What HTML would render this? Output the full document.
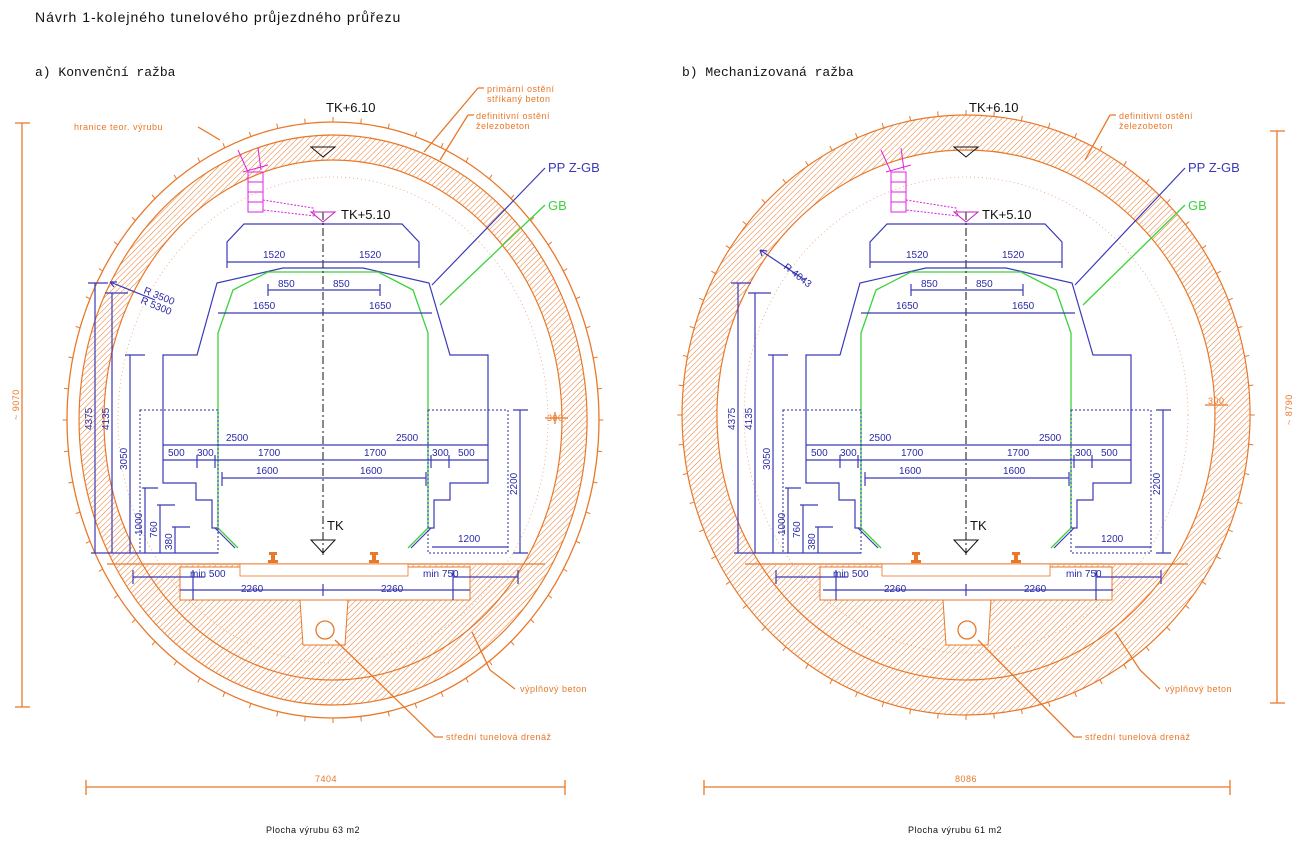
<!DOCTYPE html>
<html><head><meta charset="utf-8"><style>
html,body{margin:0;padding:0;background:#fff}
svg{display:block}
text{font-family:"Liberation Sans",sans-serif}
.o{fill:none;stroke:#e8782a;stroke-width:1.3}
.b{fill:none;stroke:#3a3ab8;stroke-width:1.2}
.g{fill:none;stroke:#3cd23c;stroke-width:1.3}
.bt{fill:#2a2aa8;font-size:10px}
.ot{fill:#e8782a;font-size:9px;letter-spacing:0.5px}
.kt{fill:#111;font-size:13px}
</style></head><body>
<svg id="s" width="1300" height="847" viewBox="0 0 1300 847" xmlns="http://www.w3.org/2000/svg">
<defs>
<pattern id="h" patternUnits="userSpaceOnUse" width="4" height="4" patternTransform="rotate(45)">
<line x1="0" y1="0" x2="0" y2="4" stroke="#e8782a" stroke-width="1"/></pattern>
<clipPath id="cl1"><rect x="0" y="565" width="650" height="200"/></clipPath>
<clipPath id="cl2"><rect x="650" y="565" width="650" height="200"/></clipPath>
</defs>

<text x="35" y="22" style="font-size:14px;letter-spacing:1px" fill="#111">Návrh 1-kolejného tunelového průjezdného průřezu</text>
<text x="35" y="76" style="font-family:'Liberation Mono',monospace;font-size:13px" fill="#111">a) Konvenční ražba</text>
<text x="682" y="76" style="font-family:'Liberation Mono',monospace;font-size:13px" fill="#111">b) Mechanizovaná ražba</text>

<!-- LEFT RING -->
<g id="ringL">
<ellipse class="o" cx="333" cy="420" rx="266" ry="298"/>
<path d="M333,135 a254,285 0 1,0 0.1,0 Z M333,160 a229,260 0 1,1 -0.1,0 Z" fill="url(#h)" fill-rule="evenodd" stroke="#e8782a" stroke-width="1.2"/>
<ellipse cx="333" cy="420" rx="215" ry="243" fill="none" stroke="#e8a070" stroke-width="0.8" stroke-dasharray="1,3"/>
<g clip-path="url(#cl1)"><ellipse cx="333" cy="420" rx="229" ry="260" fill="url(#h)"/></g>
<line class="o" x1="107" y1="564" x2="545" y2="564"/>
<rect x="180" y="567" width="290" height="33" fill="#fff" stroke="#e8782a"/>
<rect x="240" y="564" width="168" height="12" fill="#fff" stroke="#e8782a" stroke-width="0.8"/>
<path d="M300,600 L348,600 L345,645 L303,645 Z" fill="#fff" stroke="#e8782a"/>
<circle cx="325" cy="630" r="9" class="o"/>
</g>

<!-- RIGHT RING -->
<g>
<path d="M966,115 a284,300 0 1,0 0.1,0 Z M966,150 a249,265 0 1,1 -0.1,0 Z" fill="url(#h)" fill-rule="evenodd" stroke="#e8782a" stroke-width="1.2"/>
<ellipse cx="966" cy="415" rx="222" ry="238" fill="none" stroke="#e8a070" stroke-width="0.8" stroke-dasharray="1,3"/>
<g clip-path="url(#cl2)"><ellipse cx="966" cy="415" rx="249" ry="265" fill="url(#h)"/></g>
<line class="o" x1="745" y1="564" x2="1188" y2="564"/>
<rect x="820" y="567" width="292" height="33" fill="#fff" stroke="#e8782a"/>
<rect x="882" y="564" width="168" height="12" fill="#fff" stroke="#e8782a" stroke-width="0.8"/>
<path d="M943,600 L991,600 L988,645 L946,645 Z" fill="#fff" stroke="#e8782a"/>
<circle cx="967" cy="630" r="9" class="o"/>
</g>
<g id="ticks"></g>

<!-- PROFILE LEFT -->
<g transform="translate(323,0)">
<path class="b" d="M-96,268 L-96,242 L-79,224 L79,224 L96,242 L96,268"/>
<path class="b" d="M-105,528 L-111,528 L-111,500 L-127,500 L-127,483 L-160,483 L-160,355 L-126,355 L-106,283 L-40,268 L40,268 L106,283 L127,355 L165,355 L165,483 L127,483 L127,500 L111,500 L111,528 L105,528"/>
<path class="g" d="M-85,548 L-105,528 L-105,333 L-90,290 L-55,272 L55,272 L90,290 L105,333 L105,528 L85,548"/>
<path class="b" d="M-88,548 L-108,528 M88,548 L108,528"/>
<rect x="-183" y="410" width="78" height="143" fill="none" stroke="#2a2aa8" stroke-dasharray="2,2"/>
<rect x="105" y="410" width="80" height="143" fill="none" stroke="#2a2aa8" stroke-dasharray="2,2"/>
<line x1="0" y1="212" x2="0" y2="555" stroke="#111" stroke-dasharray="8,3,2,3"/>
<path d="M-12,540 L12,540 L0,553 Z" fill="none" stroke="#111"/>
<text x="4" y="530" class="kt">TK</text>
<path d="M-12,147 L12,147 L0,157 Z" fill="none" stroke="#111"/>
<text x="3" y="112" class="kt">TK+6.10</text>
<path d="M-12,212 L12,212 L0,222 Z" fill="none" stroke="#c020c0"/>
<text x="18" y="219" class="kt">TK+5.10</text>
<path d="M-75,172 L-60,172 L-60,212 L-75,212 Z M-75,182 L-60,182 M-75,192 L-60,192 M-75,202 L-60,202" fill="none" stroke="#e020e0"/>
<path d="M-80,172 L-55,165 M-85,150 L-75,172 M-65,148 L-62,170" stroke="#e020e0" fill="none"/>
<path d="M-60,200 L-10,208 L-8,216 L-60,210 Z" fill="none" stroke="#e020e0" stroke-dasharray="2,1.5"/>
<g class="b" stroke-width="1">
<path d="M-96,262 H96 M-55,290 H57 M-55,284 V296 M57,284 V296 M-105,313 H109 M-160,445 H165 M-160,460 H165 M-126,455 V468 M-108,455 V468 M108,455 V468 M126,455 V468 M-101,478 H103 M-101,472 V486 M103,472 V486 M109,547 H185"/>
<path d="M-228,283 V553 M-235,283 H-215 M-211,293 V553 M-218,293 H-195 M-193,355 V553 M-198,355 H-178 M-178,488 V553 M-181,488 H-165 M-163,505 V553 M-166,505 H-148 M-148,527 V553 M-151,527 H-133 M-232,553 H-105 M197,410 V553 M190,410 H205 M190,553 H205"/>
<path d="M-190,577 H-118 M-190,570 V584 M-130,570 V600 M130,570 V600 M195,570 V584 M130,577 H195 M-143,590 H147 M0,584 V596"/>
</g>
<g class="bt">
<text x="-60" y="258">1520</text><text x="36" y="258">1520</text>
<text x="-45" y="287">850</text><text x="10" y="287">850</text>
<text x="-70" y="309">1650</text><text x="46" y="309">1650</text>
<text x="-97" y="441">2500</text><text x="73" y="441">2500</text>
<text x="-155" y="456">500</text><text x="-126" y="456">300</text><text x="-65" y="456">1700</text><text x="41" y="456">1700</text><text x="109" y="456">300</text><text x="135" y="456">500</text>
<text x="-67" y="474">1600</text><text x="37" y="474">1600</text>
<text x="135" y="542">1200</text>
<text x="-133" y="577">min 500</text><text x="100" y="577">min 750</text>
<text x="-82" y="592">2260</text><text x="58" y="592">2260</text>
<text transform="translate(-231,430) rotate(-90)">4375</text>
<text transform="translate(-214,430) rotate(-90)">4135</text>
<text transform="translate(-196,470) rotate(-90)">3050</text>
<text transform="translate(-181,535) rotate(-90)">1000</text>
<text transform="translate(-166,538) rotate(-90)">760</text>
<text transform="translate(-151,550) rotate(-90)">380</text>
<text transform="translate(194,495) rotate(-90)">2200</text>
</g>
</g>

<!-- PROFILE RIGHT -->
<g transform="translate(966,0)">
<path class="b" d="M-96,268 L-96,242 L-79,224 L79,224 L96,242 L96,268"/>
<path class="b" d="M-105,528 L-111,528 L-111,500 L-127,500 L-127,483 L-160,483 L-160,355 L-126,355 L-106,283 L-40,268 L40,268 L106,283 L127,355 L165,355 L165,483 L127,483 L127,500 L111,500 L111,528 L105,528"/>
<path class="g" d="M-85,548 L-105,528 L-105,333 L-90,290 L-55,272 L55,272 L90,290 L105,333 L105,528 L85,548"/>
<path class="b" d="M-88,548 L-108,528 M88,548 L108,528"/>
<rect x="-183" y="410" width="78" height="143" fill="none" stroke="#2a2aa8" stroke-dasharray="2,2"/>
<rect x="105" y="410" width="80" height="143" fill="none" stroke="#2a2aa8" stroke-dasharray="2,2"/>
<line x1="0" y1="212" x2="0" y2="555" stroke="#111" stroke-dasharray="8,3,2,3"/>
<path d="M-12,540 L12,540 L0,553 Z" fill="none" stroke="#111"/>
<text x="4" y="530" class="kt">TK</text>
<path d="M-12,147 L12,147 L0,157 Z" fill="none" stroke="#111"/>
<text x="3" y="112" class="kt">TK+6.10</text>
<path d="M-12,212 L12,212 L0,222 Z" fill="none" stroke="#c020c0"/>
<text x="16" y="219" class="kt">TK+5.10</text>
<path d="M-75,172 L-60,172 L-60,212 L-75,212 Z M-75,182 L-60,182 M-75,192 L-60,192 M-75,202 L-60,202" fill="none" stroke="#e020e0"/>
<path d="M-80,172 L-55,165 M-85,150 L-75,172 M-65,148 L-62,170" stroke="#e020e0" fill="none"/>
<path d="M-60,200 L-10,208 L-8,216 L-60,210 Z" fill="none" stroke="#e020e0" stroke-dasharray="2,1.5"/>
<g class="b" stroke-width="1">
<path d="M-96,262 H96 M-55,290 H57 M-55,284 V296 M57,284 V296 M-105,313 H109 M-160,445 H165 M-160,460 H165 M-126,455 V468 M-108,455 V468 M108,455 V468 M126,455 V468 M-101,478 H103 M-101,472 V486 M103,472 V486 M109,547 H185"/>
<path d="M-228,283 V553 M-235,283 H-215 M-211,293 V553 M-218,293 H-195 M-193,355 V553 M-198,355 H-178 M-178,488 V553 M-181,488 H-165 M-163,505 V553 M-166,505 H-148 M-148,527 V553 M-151,527 H-133 M-232,553 H-105 M197,410 V553 M190,410 H205 M190,553 H205"/>
<path d="M-190,577 H-118 M-190,570 V584 M-130,570 V600 M130,570 V600 M195,570 V584 M130,577 H195 M-143,590 H147 M0,584 V596"/>
</g>
<g class="bt">
<text x="-60" y="258">1520</text><text x="36" y="258">1520</text>
<text x="-45" y="287">850</text><text x="10" y="287">850</text>
<text x="-70" y="309">1650</text><text x="46" y="309">1650</text>
<text x="-97" y="441">2500</text><text x="73" y="441">2500</text>
<text x="-155" y="456">500</text><text x="-126" y="456">300</text><text x="-65" y="456">1700</text><text x="41" y="456">1700</text><text x="109" y="456">300</text><text x="135" y="456">500</text>
<text x="-67" y="474">1600</text><text x="37" y="474">1600</text>
<text x="135" y="542">1200</text>
<text x="-133" y="577">min 500</text><text x="100" y="577">min 750</text>
<text x="-82" y="592">2260</text><text x="58" y="592">2260</text>
<text transform="translate(-231,430) rotate(-90)">4375</text>
<text transform="translate(-214,430) rotate(-90)">4135</text>
<text transform="translate(-196,470) rotate(-90)">3050</text>
<text transform="translate(-181,535) rotate(-90)">1000</text>
<text transform="translate(-166,538) rotate(-90)">760</text>
<text transform="translate(-151,550) rotate(-90)">380</text>
<text transform="translate(194,495) rotate(-90)">2200</text>
</g>
</g>

<!-- rails -->
<g fill="#e8782a"><path d="M269,552 h8 v3 h-2 v5 h3 v3 h-10 v-3 h3 v-5 h-2 Z"/><path d="M370,552 h8 v3 h-2 v5 h3 v3 h-10 v-3 h3 v-5 h-2 Z"/>
<path d="M912,552 h8 v3 h-2 v5 h3 v3 h-10 v-3 h3 v-5 h-2 Z"/><path d="M1012,552 h8 v3 h-2 v5 h3 v3 h-10 v-3 h3 v-5 h-2 Z"/></g>

<!-- PP / GB leaders -->
<path class="b" d="M432,285 L545,168 M1075,285 L1185,168"/>
<path class="g" d="M440,305 L545,205 M1083,305 L1185,205"/>
<text x="548" y="172" fill="#3a3ab8" font-size="13">PP  Z-GB</text>
<text x="548" y="210" fill="#3cd23c" font-size="13">GB</text>
<text x="1188" y="172" fill="#3a3ab8" font-size="13">PP  Z-GB</text>
<text x="1188" y="210" fill="#3cd23c" font-size="13">GB</text>

<!-- radius -->
<path class="b" d="M110,282 L155,300 M110,282 l7,0 M110,282 l4,5"/>
<text class="bt" transform="translate(143,293) rotate(22)" font-size="9">R 3500</text>
<text class="bt" transform="translate(140,303) rotate(22)" font-size="9">R 5300</text>
<path class="b" d="M760,250 L805,280 M760,250 l7,1 M760,250 l2,6"/>
<text class="bt" transform="translate(783,268) rotate(38)" font-size="9">R 4043</text>

<!-- orange labels -->
<g class="o" stroke-width="1">
<path d="M198,127 L220,140 M478,88 L424,152 M478,88 H484 M468,115 L440,160 M468,115 H474 M515,689 L490,670 L472,632 M443,737 L435,737 L335,640"/>
<path d="M1110,115 L1085,160 M1110,115 H1116 M1160,689 L1140,670 L1115,632 M1082,737 L1074,737 L978,640"/>
<path d="M545,418 H568 M555,412 V424 M1205,405 H1228"/>
<path d="M86,787 H565 M86,780 V795 M565,780 V795 M22,123 V707 M15,123 H30 M15,707 H30"/>
<path d="M704,787 H1230 M704,780 V795 M1230,780 V795 M1277,131 V703 M1270,131 H1285 M1270,703 H1285"/>
</g>
<g class="ot">
<text x="74" y="130">hranice teor. výrubu</text>
<text x="487" y="92">primární ostění</text><text x="487" y="102">stříkaný beton</text>
<text x="476" y="119">definitivní ostění</text><text x="476" y="129">železobeton</text>
<text x="520" y="692">výplňový beton</text>
<text x="446" y="740">střední tunelová drenáž</text>
<text x="547" y="421">300</text>
<text x="315" y="782">7404</text>
<text transform="translate(19,420) rotate(-90)">~ 9070</text>
<text x="1119" y="119">definitivní ostění</text><text x="1119" y="129">železobeton</text>
<text x="1165" y="692">výplňový beton</text>
<text x="1085" y="740">střední tunelová drenáž</text>
<text x="1208" y="404">300</text>
<text x="955" y="782">8086</text>
<text transform="translate(1292,425) rotate(-90)">~ 8790</text>
</g>
<text x="266" y="833" font-size="9" fill="#111" letter-spacing="0.5">Plocha výrubu 63 m2</text>
<text x="908" y="833" font-size="9" fill="#111" letter-spacing="0.5">Plocha výrubu 61 m2</text>
</svg>
<script>
(function(){var g=document.getElementById('ticks'),ns='http://www.w3.org/2000/svg';
function ring(cx,cy,rx,ry,n){for(var i=0;i<n;i++){var t=i/n*2*Math.PI;var x=cx+rx*Math.cos(t),y=cy+ry*Math.sin(t);
var dx=Math.cos(t)*rx/Math.max(rx,ry),dy=Math.sin(t)*ry/Math.max(rx,ry);var l=document.createElementNS(ns,'line');
l.setAttribute('x1',x);l.setAttribute('y1',y);l.setAttribute('x2',x+dx*5);l.setAttribute('y2',y+dy*5);
l.setAttribute('stroke','#e8782a');l.setAttribute('stroke-width','1');g.appendChild(l);}}
ring(333,420,266,298,60);ring(966,415,284,300,64);})();
</script>
</body></html>
